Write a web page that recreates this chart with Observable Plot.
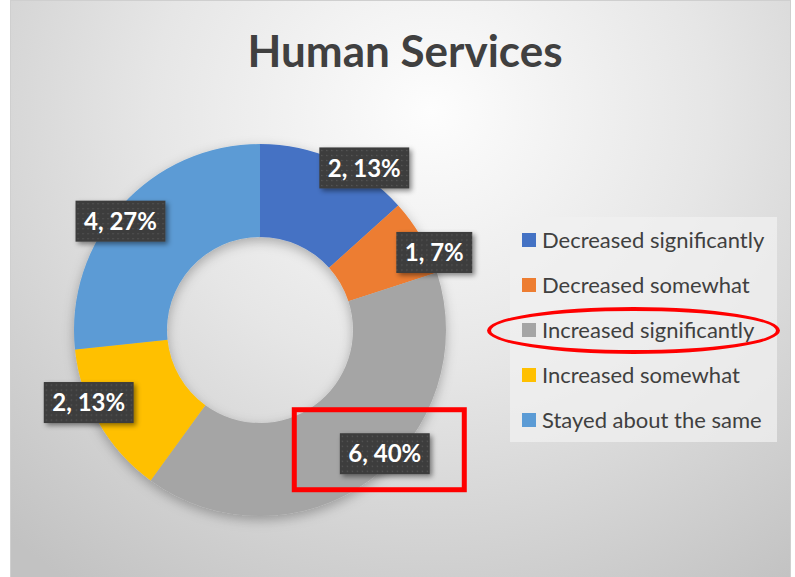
<!DOCTYPE html>
<html>
<head>
<meta charset="utf-8">
<script src="https://cdn.jsdelivr.net/npm/d3@7"></script>
<script src="https://cdn.jsdelivr.net/npm/@observablehq/plot@0.6"></script>
<style>
  html, body { margin: 0; padding: 0; background: #fff; }
  #wrap { position: relative; width: 795px; height: 577px; overflow: hidden; font-family: Lato, "Open Sans", sans-serif; }
  #bg { position: absolute; left: 10px; top: 0; width: 781px; height: 580px; box-sizing: border-box;
        border: 1px solid #cfcfcf;
        background: radial-gradient(ellipse 620px 580px at 420px 110px, #fdfdfd 0%, #e6e6e6 45%, #c2c2c2 100%); }
  #title { position: absolute; left: 12px; width: 786px; top: 28px; text-align: center; font-weight: 700;
           font-size: 44px; line-height: 1; color: #404040; }
  #legend { position: absolute; left: 510px; top: 217px; width: 267px; height: 225px; background: rgba(240,240,240,0.75); }
  .item { display: flex; align-items: center; height: 45px; padding-left: 12px; font-size: 22px; color: #404040; white-space: nowrap; }
  .sw { width: 14px; height: 14px; margin-right: 6px; flex: none; }
  #ellipse { position: absolute; left: 487px; top: 307px; width: 293px; height: 47px; box-sizing: border-box;
             border: 4.5px solid #ff0000; border-radius: 50%; }
  #plot { position: absolute; left: 0; top: 0; }
</style>
</head>
<body>
<div id="wrap">
  <div id="bg"></div>
  <div id="title"></div>
  <div id="legend"></div>
  <div id="plot"></div>
  <div id="ellipse"></div>
</div>
<script>
// ---- data ----
const title = "Human Services";
const categories = ["Decreased significantly", "Decreased somewhat", "Increased significantly", "Increased somewhat", "Stayed about the same"];
const counts = [2, 1, 6, 2, 4];
const colors = ["#4472C4", "#ED7D31", "#A5A5A5", "#FFC000", "#5B9BD5"];
const highlighted = "Increased significantly";

// ---- layout (pixel nudges of the data labels, Excel "best fit") ----
const labelNudge = [[29, 7], [14, 15], [16, -26], [-11, -20], [-2, 15]];

const total = d3.sum(counts);
const rows = categories.map((c, i) => ({category: c, count: counts[i], color: colors[i], pct: Math.round(counts[i] / total * 100)}));
const arcs = d3.pie().sort(null).value(d => d.count)(rows);
arcs.forEach((a, i) => {
  a.mid = (a.startAngle + a.endAngle) / 2;
  a.lx = 0.995 * Math.sin(a.mid);
  a.ly = 0.995 * Math.cos(a.mid);
  a.nudge = labelNudge[i];
});

document.getElementById("title").textContent = title;

const legend = d3.select("#legend");
const items = legend.selectAll("div").data(rows).join("div").attr("class", "item");
items.append("div").attr("class", "sw").style("background", d => d.color);
items.append("span").text(d => d.category);

function donut(index, scales) {
  const cx = scales.x(0), cy = scales.y(0), R = scales.x(1) - cx;
  const g = d3.create("svg:g");
  const defs = g.append("defs");
  const f1 = defs.append("filter").attr("id", "ringShadow").attr("x", "-20%").attr("y", "-20%").attr("width", "140%").attr("height", "140%");
  f1.append("feDropShadow").attr("dx", 0).attr("dy", 4).attr("stdDeviation", 6).attr("flood-color", "#000").attr("flood-opacity", 0.28);
  const f2 = defs.append("filter").attr("id", "boxShadow").attr("x", "-30%").attr("y", "-40%").attr("width", "160%").attr("height", "180%");
  f2.append("feDropShadow").attr("dx", 2.5).attr("dy", 2.5).attr("stdDeviation", 2.5).attr("flood-color", "#000").attr("flood-opacity", 0.45);
  const pat = defs.append("pattern").attr("id", "dots").attr("patternUnits", "userSpaceOnUse").attr("width", 5).attr("height", 5);
  pat.append("rect").attr("width", 5).attr("height", 5).attr("fill", "#3d3d3d");
  pat.append("rect").attr("x", 2).attr("y", 2).attr("width", 1.2).attr("height", 1.2).attr("fill", "#5c5c5c");

  const arc = d3.arc().innerRadius(R * 0.5).outerRadius(R);
  g.append("g").attr("transform", `translate(${cx},${cy})`).attr("filter", "url(#ringShadow)")
    .selectAll("path").data(arcs).join("path").attr("d", arc).attr("fill", d => d.data.color);

  const labels = g.append("g").selectAll("g").data(arcs).join("g").attr("class", "dlabel")
    .attr("transform", d => `translate(${scales.x(d.lx) + d.nudge[0]},${scales.y(d.ly) + d.nudge[1]})`);
  labels.append("rect").attr("fill", "url(#dots)").attr("filter", "url(#boxShadow)").attr("y", -20.5).attr("height", 41).attr("x", -45).attr("width", 90);
  labels.append("text").attr("text-anchor", "middle").attr("dy", "0.36em").attr("fill", "#fff")
    .attr("font-family", "Lato, 'Open Sans', sans-serif").attr("font-weight", 700).attr("font-size", 24)
    .text(d => `${d.data.count}, ${d.data.pct}%`);

  const h = arcs.find(d => d.data.category === highlighted);
  const hx = scales.x(h.lx) + h.nudge[0], hy = scales.y(h.ly) + h.nudge[1];
  g.append("rect").attr("x", hx - 90.5).attr("y", hy - 44).attr("width", 170).attr("height", 80)
    .attr("fill", "none").attr("stroke", "#ff0000").attr("stroke-width", 5);
  return g.node();
}

const chart = Plot.plot({
  width: 795,
  height: 577,
  marginLeft: 74,
  marginRight: 349,
  marginTop: 144,
  marginBottom: 61,
  x: {domain: [-1, 1], axis: null},
  y: {domain: [-1, 1], axis: null},
  style: {background: "transparent", overflow: "visible"},
  marks: [
    Plot.dot(arcs, {x: "lx", y: "ly", fill: "none", stroke: "none"}),
    donut
  ]
});
document.getElementById("plot").appendChild(chart);

d3.selectAll(".dlabel").each(function () {
  const w = this.querySelector("text").getComputedTextLength();
  d3.select(this).select("rect").attr("x", -w / 2 - 8.5).attr("width", w + 17);
});
</script>
</body>
</html>
